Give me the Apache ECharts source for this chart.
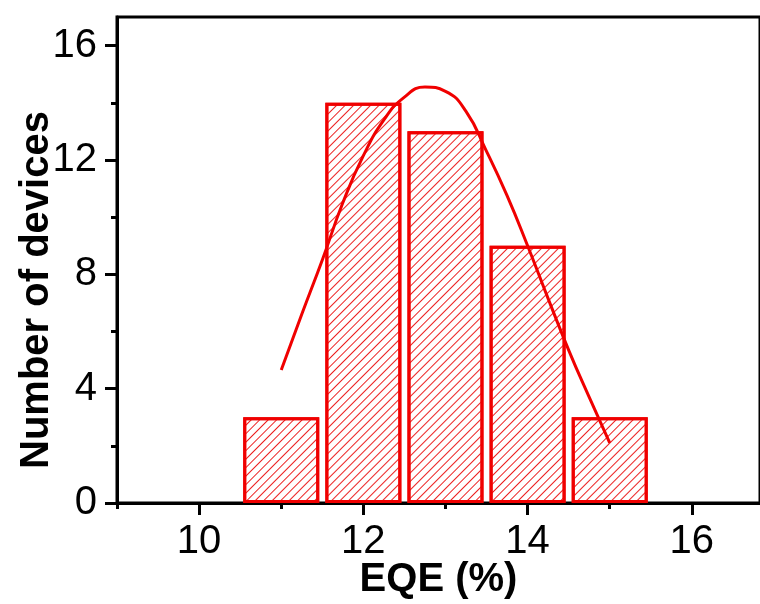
<!DOCTYPE html>
<html>
<head>
<meta charset="utf-8">
<script src="https://cdn.jsdelivr.net/npm/echarts@6/dist/echarts.min.js"></script>
<style>
html,body{margin:0;padding:0;background:#fff;}
#c{width:760px;height:604px;}
</style>
</head>
<body>
<div id="c"></div>
<script>
const binCenters = [11, 12, 13, 14, 15];
const counts = [3, 14, 13, 9, 3];
const fitX = [11.0, 11.25, 11.5, 11.75, 12.0, 12.25, 12.5, 12.75, 13.0, 13.25, 13.5, 13.75, 14.0, 14.25, 14.5, 14.75, 15.0];
const fitY = [4.65, 6.6, 8.5, 10.5, 12.15, 13.4, 14.2, 14.55, 14.4, 13.7, 12.3, 10.75, 9.0, 7.15, 5.35, 3.7, 2.1];
const xMajorTicks = [10, 12, 14, 16];
const xMinorTicks = [9, 11, 13, 15];
const yMajorTicks = [0, 4, 8, 12, 16];
const yMinorTicks = [2, 6, 10, 14];

const RED = '#f00000';
const FONT = '"Liberation Sans", Arial, sans-serif';

const chart = echarts.init(document.getElementById('c'));
const axisLineStyle = { color: '#000', width: 3 };

chart.setOption({
  animation: false,
  backgroundColor: '#fff',
  grid: {
    left: 117, top: 17, right: 0, bottom: 101,
    outerBoundsMode: 'none',
    containLabel: false,
    show: true, borderColor: '#000', borderWidth: 3, backgroundColor: 'transparent'
  },
  xAxis: [
    {
      type: 'value', min: 9, max: 16.83, position: 'bottom',
      axisLine: { show: true, lineStyle: axisLineStyle },
      axisTick: { show: true, customValues: xMajorTicks, length: 12, inside: false, lineStyle: { color: '#000', width: 3 } },
      axisLabel: { customValues: xMajorTicks, margin: 19, fontSize: 40, color: '#000', fontFamily: FONT },
      splitLine: { show: false },
      name: 'EQE (%)', nameLocation: 'middle', nameGap: 57, nameMoveOverlap: false,
      nameTextStyle: { fontSize: 40, fontWeight: 'bold', color: '#000', fontFamily: FONT }
    },
    {
      type: 'value', min: 9, max: 16.83, position: 'bottom',
      axisLine: { show: false },
      axisTick: { show: true, customValues: xMinorTicks, length: 6, inside: false, lineStyle: { color: '#000', width: 3 } },
      axisLabel: { show: false },
      splitLine: { show: false }
    }
  ],
  yAxis: [
    {
      type: 'value', min: 0, max: 17, position: 'left',
      axisLine: { show: true, lineStyle: axisLineStyle },
      axisTick: { show: true, customValues: yMajorTicks, length: 12, inside: false, lineStyle: { color: '#000', width: 3 } },
      axisLabel: { customValues: yMajorTicks, margin: 20, fontSize: 40, color: '#000', fontFamily: FONT },
      splitLine: { show: false },
      name: 'Number of devices', nameLocation: 'middle', nameGap: 60, nameRotate: 90, nameMoveOverlap: false,
      nameTextStyle: { fontSize: 40, fontWeight: 'bold', color: '#000', fontFamily: FONT, padding: [0, 60, 0, 0] }
    },
    {
      type: 'value', min: 0, max: 17, position: 'left',
      axisLine: { show: false },
      axisTick: { show: true, customValues: yMinorTicks, length: 6, inside: false, lineStyle: { color: '#000', width: 3 } },
      axisLabel: { show: false },
      splitLine: { show: false }
    }
  ],
  series: [
    {
      type: 'bar',
      xAxisIndex: 0, yAxisIndex: 0,
      data: binCenters.map((x, i) => [x, counts[i]]),
      barWidth: 76,
      itemStyle: {
        color: '#fff',
        borderColor: RED,
        borderWidth: 3,
        decal: {
          symbol: 'rect',
          symbolSize: 1,
          color: 'rgba(235,20,20,0.95)',
          dashArrayX: [1, 0],
          dashArrayY: [1, 5],
          rotation: -Math.PI / 4
        }
      },
      z: 2
    },
    {
      type: 'line',
      xAxisIndex: 0, yAxisIndex: 0,
      data: fitX.map((x, i) => [x, fitY[i]]),
      smooth: 0.5,
      showSymbol: false,
      symbol: 'none',
      lineStyle: { color: RED, width: 3 },
      z: 3
    }
  ]
});
</script>
</body>
</html>
